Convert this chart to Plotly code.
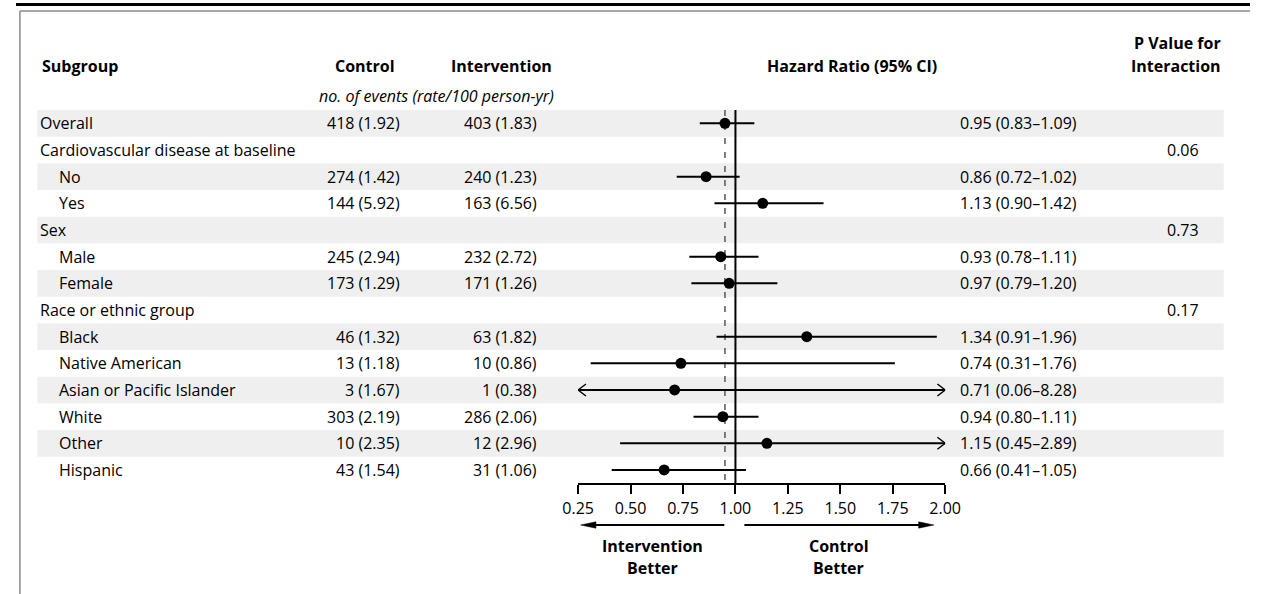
import plotly.graph_objects as go

W, H = 1266, 594
FONT = "Open Sans"
FS = 16

# ---------------- data ----------------
labels = ["Overall", "Cardiovascular disease at baseline", "No", "Yes", "Sex", "Male", "Female",
          "Race or ethnic group", "Black", "Native American", "Asian or Pacific Islander",
          "White", "Other", "Hispanic"]
indent = [0, 0, 1, 1, 0, 1, 1, 0, 1, 1, 1, 1, 1, 1]
control = ["418 (1.92)", "", "274 (1.42)", "144 (5.92)", "", "245 (2.94)", "173 (1.29)", "",
           "46 (1.32)", "13 (1.18)", "3 (1.67)", "303 (2.19)", "10 (2.35)", "43 (1.54)"]
intervention = ["403 (1.83)", "", "240 (1.23)", "163 (6.56)", "", "232 (2.72)", "171 (1.26)", "",
                "63 (1.82)", "10 (0.86)", "1 (0.38)", "286 (2.06)", "12 (2.96)", "31 (1.06)"]
hr = [0.95, None, 0.86, 1.13, None, 0.93, 0.97, None, 1.34, 0.74, 0.71, 0.94, 1.15, 0.66]
ci_low = [0.83, None, 0.72, 0.90, None, 0.78, 0.79, None, 0.91, 0.31, 0.06, 0.80, 0.45, 0.41]
ci_high = [1.09, None, 1.02, 1.42, None, 1.11, 1.20, None, 1.96, 1.76, 8.28, 1.11, 2.89, 1.05]
p_interaction = ["", "0.06", "", "", "0.73", "", "", "0.17", "", "", "", "", "", ""]
tick_vals = [0.25, 0.50, 0.75, 1.00, 1.25, 1.50, 1.75, 2.00]
tick_text = ["0.25", "0.50", "0.75", "1.00", "1.25", "1.50", "1.75", "2.00"]
x_range = [0.25, 2.00]

# ---------------- layout geometry (pixels) ----------------
def PX(x):
    return x / W

def PY(y):
    return 1 - y / H

AX_L, AX_R = 576.7, 953.3
ROW_TOP, ROW_BOT = 110.0, 483.3
n = len(labels)
px_per_unit = (AX_R - AX_L) / (x_range[1] - x_range[0])
px_per_row = (ROW_BOT - ROW_TOP) / n

fig = go.Figure()

# CI lines, chevrons, points
for i in range(n):
    if hr[i] is None:
        continue
    x0 = max(ci_low[i], x_range[0])
    x1 = min(ci_high[i], x_range[1])
    fig.add_trace(go.Scatter(x=[x0, x1], y=[i, i], mode="lines",
                             line=dict(color="black", width=2), hoverinfo="skip", showlegend=False))
    dx = 8 / px_per_unit
    dy = 6 / px_per_row
    if ci_low[i] < x_range[0]:
        fig.add_trace(go.Scatter(x=[x0 + dx, x0, x0 + dx], y=[i - dy, i, i + dy], mode="lines",
                                 line=dict(color="black", width=1.4), hoverinfo="skip", showlegend=False))
    if ci_high[i] > x_range[1]:
        fig.add_trace(go.Scatter(x=[x1 - dx, x1, x1 - dx], y=[i - dy, i, i + dy], mode="lines",
                                 line=dict(color="black", width=1.4), hoverinfo="skip", showlegend=False))

pts_x = [h for h in hr if h is not None]
pts_y = [i for i, h in enumerate(hr) if h is not None]
fig.add_trace(go.Scatter(x=pts_x, y=pts_y, mode="markers",
                         marker=dict(color="black", size=11, line=dict(width=0)),
                         hoverinfo="skip", showlegend=False))

shapes = []
# alternating row bands
for i in range(n):
    if i % 2 == 0:
        shapes.append(dict(type="rect", xref="paper", yref="y", x0=PX(22), x1=PX(1239),
                           y0=i - 0.5, y1=i + 0.5, fillcolor="#efefef", line=dict(width=0),
                           layer="below"))
# reference lines
shapes.append(dict(type="line", xref="x", yref="y", x0=hr[0], x1=hr[0], y0=-0.5, y1=n - 0.5,
                   line=dict(color="#555555", width=1.5, dash="6px,8px"), layer="below"))
shapes.append(dict(type="line", xref="x", yref="y", x0=1.0, x1=1.0, y0=-0.5, y1=n - 0.5,
                   line=dict(color="black", width=2), layer="below"))
# frame
shapes.append(dict(type="line", xref="paper", yref="paper", x0=0, x1=1, y0=PY(4.5), y1=PY(4.5),
                   line=dict(color="black", width=3)))
shapes.append(dict(type="line", xref="paper", yref="paper", x0=PX(4), x1=1, y0=PY(11), y1=PY(11),
                   line=dict(color="#8a8a8a", width=1.5)))
shapes.append(dict(type="line", xref="paper", yref="paper", x0=PX(4), x1=PX(4), y0=PY(11), y1=0,
                   line=dict(color="#8a8a8a", width=1.5)))
# direction arrows
AY = 525
shapes.append(dict(type="line", xref="paper", yref="paper", x0=PX(726.7), x1=PX(592), y0=PY(AY), y1=PY(AY),
                   line=dict(color="black", width=2)))
shapes.append(dict(type="path", xref="paper", yref="paper",
                   path=f"M {PX(579.3)} {PY(AY)} L {PX(595)} {PY(AY - 3.2)} L {PX(595)} {PY(AY + 3.2)} Z",
                   fillcolor="black", line=dict(color="black", width=0.5)))
shapes.append(dict(type="line", xref="paper", yref="paper", x0=PX(747.3), x1=PX(928), y0=PY(AY), y1=PY(AY),
                   line=dict(color="black", width=2)))
shapes.append(dict(type="path", xref="paper", yref="paper",
                   path=f"M {PX(941.7)} {PY(AY)} L {PX(926)} {PY(AY - 3.2)} L {PX(926)} {PY(AY + 3.2)} Z",
                   fillcolor="black", line=dict(color="black", width=0.5)))

ann = []

def txt(text, x, y, xanchor="left", yref="paper", bold=False, italic=False, size=FS):
    if bold:
        text = f"<b>{text}</b>"
    if italic:
        text = f"<i>{text}</i>"
    ann.append(dict(text=text, x=PX(x), y=(PY(y) if yref == "paper" else y), xref="paper", yref=yref,
                    xanchor=xanchor, yanchor="middle", showarrow=False,
                    font=dict(family=FONT, size=size, color="black")))

# headers
txt("Subgroup", 25, 66, bold=True)
txt("Control", 358, 66, xanchor="center", bold=True)
txt("Intervention", 498, 66, xanchor="center", bold=True)
txt("Hazard Ratio (95% CI)", 947, 66, xanchor="right", bold=True)
txt("P Value for", 1238, 43, xanchor="right", bold=True)
txt("Interaction", 1238, 66, xanchor="right", bold=True)
txt("no. of events (rate/100 person-yr)", 431, 96, xanchor="center", italic=True)

# rows
for i in range(n):
    txt(labels[i], 23 + 19 * indent[i], i, yref="y")
    if control[i]:
        txt(control[i], 396, i, xanchor="right", yref="y")
    if intervention[i]:
        txt(intervention[i], 537, i, xanchor="right", yref="y")
    if hr[i] is not None:
        txt(f"{hr[i]:.2f} ({ci_low[i]:.2f}\u2013{ci_high[i]:.2f})", 966, i, yref="y")
    if p_interaction[i]:
        txt(p_interaction[i], 1216, i, xanchor="right", yref="y")

# bottom labels
txt("Intervention", 653, 546, xanchor="center", bold=True)
txt("Better", 653, 568, xanchor="center", bold=True)
txt("Control", 844, 546, xanchor="center", bold=True)
txt("Better", 844, 568, xanchor="center", bold=True)

fig.update_layout(
    width=W, height=H, autosize=False,
    margin=dict(l=0, r=0, t=0, b=0),
    paper_bgcolor="white", plot_bgcolor="rgba(0,0,0,0)",
    showlegend=False,
    shapes=shapes, annotations=ann,
    font=dict(family=FONT, size=FS, color="black"),
    xaxis=dict(domain=[PX(AX_L), PX(AX_R)], range=x_range, tickvals=tick_vals, ticktext=tick_text,
               showline=True, linecolor="black", linewidth=2, ticks="outside", ticklen=9,
               tickwidth=2, tickcolor="black", showgrid=False, zeroline=False,
               tickfont=dict(family=FONT, size=FS, color="black"), fixedrange=True),
    yaxis=dict(domain=[PY(ROW_BOT), PY(ROW_TOP)], range=[n - 0.5, -0.5], visible=False,
               showgrid=False, zeroline=False, fixedrange=True),
)

fig.write_html(
    "out.html", config={"displayModeBar": False},
    post_script=("document.documentElement.style.margin='0';document.documentElement.style.overflow='hidden';"
                 "document.body.style.margin='0';document.body.style.overflow='hidden';"),
)
